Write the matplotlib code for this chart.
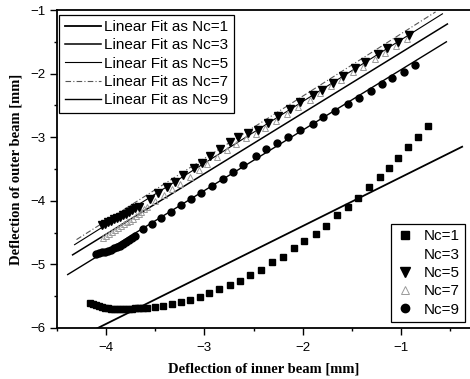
import matplotlib
matplotlib.use("Agg")
import matplotlib.pyplot as plt
from matplotlib.ticker import MultipleLocator

# ---- data (mm) ----
# Nc=1 squares
x_nc1 = [-4.16, -4.13, -4.10, -4.07, -4.04, -4.01, -3.98, -3.95, -3.92, -3.89,
         -3.86, -3.83, -3.80, -3.77, -3.74, -3.71, -3.68, -3.65, -3.62,
         -3.58, -3.50, -3.42, -3.33, -3.24, -3.15, -3.04, -2.95, -2.85, -2.74,
         -2.64, -2.54, -2.42, -2.31, -2.20, -2.09, -1.99, -1.87, -1.76, -1.65,
         -1.54, -1.44, -1.33, -1.22, -1.12, -1.03, -0.93, -0.83, -0.73]
y_nc1 = [-5.61, -5.63, -5.645, -5.66, -5.67, -5.68, -5.69, -5.695, -5.70, -5.70,
         -5.70, -5.70, -5.70, -5.70, -5.695, -5.69, -5.69, -5.69, -5.69,
         -5.68, -5.67, -5.65, -5.62, -5.59, -5.56, -5.51, -5.45, -5.38, -5.32,
         -5.26, -5.16, -5.09, -4.97, -4.88, -4.75, -4.64, -4.52, -4.39, -4.23,
         -4.09, -3.95, -3.79, -3.63, -3.48, -3.32, -3.15, -2.99, -2.83]

# Nc=5 filled triangles
x_nc5 = [-4.04, -4.01, -3.98, -3.95, -3.92, -3.89, -3.86, -3.83, -3.80, -3.77,
         -3.74, -3.71, -3.67,
         -3.55, -3.47, -3.38, -3.30, -3.22, -3.11, -3.02, -2.94, -2.84, -2.74,
         -2.66, -2.56, -2.46, -2.35, -2.25, -2.13, -2.03, -1.90, -1.80, -1.69,
         -1.59, -1.47, -1.37, -1.24, -1.14, -1.03, -0.92]
y_nc5 = [-4.38, -4.36, -4.34, -4.32, -4.29, -4.27, -4.25, -4.22, -4.20, -4.17,
         -4.14, -4.12, -4.09,
         -3.97, -3.87, -3.78, -3.70, -3.59, -3.48, -3.40, -3.30, -3.19, -3.08,
         -3.00, -2.94, -2.88, -2.77, -2.67, -2.55, -2.45, -2.34, -2.25, -2.14,
         -2.04, -1.91, -1.82, -1.69, -1.60, -1.50, -1.39]

# Nc=3 (markers not visible in the scan)
x_nc3 = [-4.02, -3.90, -3.78, -3.66, -3.50, -3.30, -3.10, -2.90, -2.70, -2.50,
         -2.30, -2.10, -1.90, -1.70, -1.50, -1.30, -1.10, -0.95]
y_nc3 = [-4.42, -4.33, -4.22, -4.12, -3.95, -3.73, -3.51, -3.29, -3.07, -2.88,
         -2.66, -2.46, -2.37, -2.16, -1.95, -1.74, -1.56, -1.44]

# Nc=7 open grey triangles
x_nc7 = [-4.03, -4.00, -3.97, -3.94, -3.91, -3.88, -3.85, -3.82, -3.79, -3.76,
         -3.73, -3.70, -3.67, -3.64, -3.61, -3.58,
         -3.50, -3.41, -3.33, -3.25, -3.15, -3.06, -2.97, -2.87, -2.77, -2.68,
         -2.58, -2.48, -2.38, -2.27, -2.16, -2.05, -1.93, -1.82, -1.71, -1.61,
         -1.49, -1.39, -1.27, -1.16, -1.05, -0.94]
y_nc7 = [-4.58, -4.55, -4.52, -4.49, -4.46, -4.43, -4.40, -4.37, -4.34, -4.31,
         -4.28, -4.24, -4.21, -4.17, -4.13, -4.09,
         -4.00, -3.91, -3.82, -3.73, -3.62, -3.52, -3.42, -3.31, -3.20, -3.10,
         -3.02, -2.95, -2.85, -2.75, -2.63, -2.52, -2.41, -2.31, -2.20, -2.10,
         -1.98, -1.89, -1.77, -1.67, -1.57, -1.46]

# Nc=9 filled circles
x_nc9 = [-4.10, -4.07, -4.04, -4.01, -3.98, -3.95, -3.92, -3.89, -3.86, -3.83,
         -3.80, -3.77, -3.74, -3.71,
         -3.62, -3.53, -3.44, -3.34, -3.24, -3.14, -3.03, -2.92, -2.81, -2.71,
         -2.61, -2.48, -2.37, -2.26, -2.15, -2.03, -1.90, -1.79, -1.67, -1.54,
         -1.43, -1.31, -1.19, -1.09, -0.97, -0.86]
y_nc9 = [-4.83, -4.82, -4.81, -4.80, -4.785, -4.77, -4.75, -4.73, -4.71, -4.68,
         -4.65, -4.62, -4.59, -4.56,
         -4.45, -4.36, -4.27, -4.17, -4.07, -3.97, -3.87, -3.76, -3.65, -3.55,
         -3.44, -3.30, -3.19, -3.09, -2.99, -2.89, -2.79, -2.69, -2.59, -2.48,
         -2.38, -2.27, -2.16, -2.07, -1.97, -1.87]

# linear fit lines (end points)
fit_nc1_x, fit_nc1_y = [-4.20, -0.38], [-6.09, -3.15]
fit_nc3_x, fit_nc3_y = [-4.34, -0.53], [-4.85, -1.22]
fit_nc5_x, fit_nc5_y = [-4.32, -0.58], [-4.69, -1.06]
fit_nc7_x, fit_nc7_y = [-4.30, -0.65], [-4.61, -1.03]
fit_nc9_x, fit_nc9_y = [-4.39, -0.54], [-5.16, -1.50]

sans = "Liberation Sans"
serif = "Liberation Serif"

fig = plt.figure(figsize=(4.7, 3.79), dpi=100)
ax = fig.add_axes([0.121, 0.1346, 0.879, 0.839])

# fit lines
l1, = ax.plot(fit_nc1_x, fit_nc1_y, color="black", lw=1.3, label="Linear Fit as Nc=1")
l3, = ax.plot(fit_nc3_x, fit_nc3_y, color="black", lw=1.1, label="Linear Fit as Nc=3")
l5, = ax.plot(fit_nc5_x, fit_nc5_y, color="black", lw=0.8, label="Linear Fit as Nc=5")
l7, = ax.plot(fit_nc7_x, fit_nc7_y, color="#555555", lw=0.8, ls=(0, (5, 2, 1, 2)),
              label="Linear Fit as Nc=7")
l9, = ax.plot(fit_nc9_x, fit_nc9_y, color="black", lw=1.0, label="Linear Fit as Nc=9")

# data points
p1, = ax.plot(x_nc1, y_nc1, ls="none", marker="s", ms=5, color="black", label="Nc=1")
p3, = ax.plot(x_nc3, y_nc3, ls="none", marker="s", ms=5, mfc="none", mec="none",
              label="Nc=3")
p7, = ax.plot(x_nc7, y_nc7, ls="none", marker="^", ms=5, mfc="none", mec="#9a9a9a",
              mew=0.7, label="Nc=7")
p5, = ax.plot(x_nc5, y_nc5, ls="none", marker="v", ms=5.5, color="black", label="Nc=5")
p9, = ax.plot(x_nc9, y_nc9, ls="none", marker="o", ms=5, color="black", label="Nc=9")

ax.set_xlim(-4.5, -0.3)
ax.set_ylim(-6, -1)
ax.xaxis.set_major_locator(MultipleLocator(1))
ax.xaxis.set_minor_locator(MultipleLocator(0.5))
ax.yaxis.set_major_locator(MultipleLocator(1))
ax.yaxis.set_minor_locator(MultipleLocator(0.5))
ax.tick_params(which="major", direction="out", length=5, width=1.0, labelsize=9.5, pad=3)
ax.tick_params(which="minor", direction="out", length=2.5, width=1.0)
ax.tick_params(axis="x", which="major", pad=5)
for lab in ax.get_xticklabels() + ax.get_yticklabels():
    lab.set_family(sans)
for s in ["left", "bottom", "top"]:
    ax.spines[s].set_linewidth(1.3)
ax.spines["right"].set_visible(False)

ax.set_xlabel("Deflection of inner beam [mm]", family=serif, fontweight="bold",
              fontsize=10.5, labelpad=6)
ax.set_ylabel("Deflection of outer beam [mm]", family=serif, fontweight="bold",
              fontsize=10.5, labelpad=6)

leg1 = ax.legend(handles=[l1, l3, l5, l7, l9], loc="upper left",
                 bbox_to_anchor=(0.006, 0.985), borderaxespad=0,
                 prop={"family": sans, "size": 11}, frameon=True, fancybox=False,
                 edgecolor="black", framealpha=1, handlelength=2.4, handletextpad=0.2,
                 labelspacing=0.28, borderpad=0.35)
leg1.get_frame().set_linewidth(0.9)
ax.add_artist(leg1)

leg2 = ax.legend(handles=[p1, p3, p5, p7, p9], loc="lower right",
                 bbox_to_anchor=(0.988, 0.019), borderaxespad=0,
                 prop={"family": sans, "size": 11}, frameon=True, fancybox=False,
                 edgecolor="black", framealpha=1, handlelength=1.2, handletextpad=0.6,
                 labelspacing=0.28, borderpad=0.35, markerscale=1.2)
leg2.get_frame().set_linewidth(0.9)

fig.savefig("out.png", dpi=100)
